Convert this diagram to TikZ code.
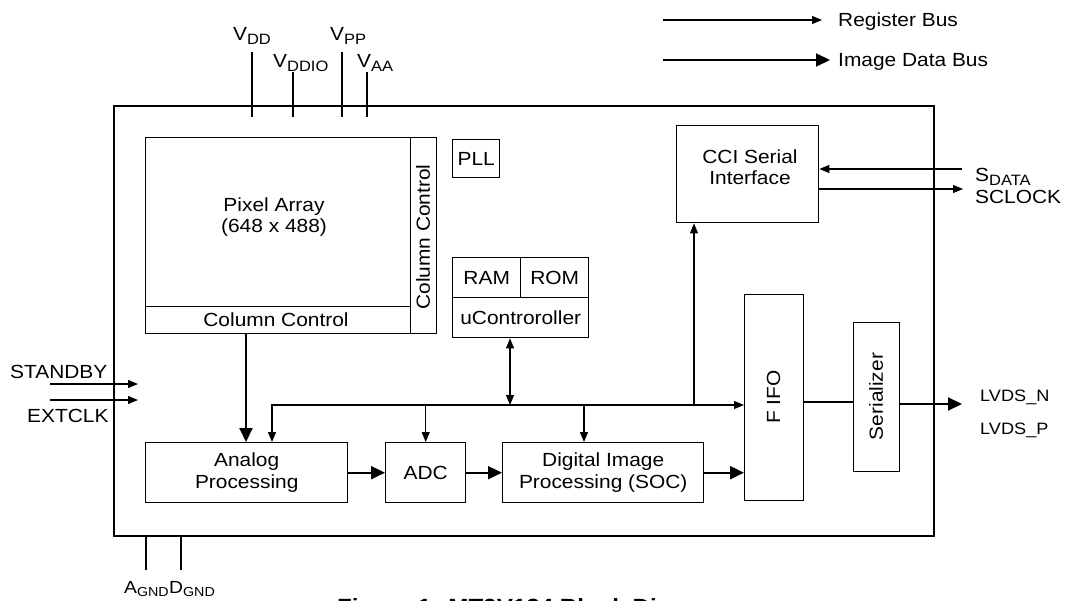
\documentclass[tikz,border=0pt]{standalone}
\usepackage{fontspec}
\setmainfont{Liberation Sans}[FakeStretch=1.1]
\usetikzlibrary{arrows.meta}
\newcommand\lbl{\fontsize{19}{21.5}\selectfont}
\newcommand\sbs[1]{\raisebox{-0.4ex}{\fontsize{15}{15}\selectfont #1}}
\newcommand\gsb[1]{\raisebox{-0.4ex}{\fontsize{13}{13}\selectfont #1}}
\tikzset{
  box/.style={draw, line width=1.4pt, inner sep=0pt, align=center, font=\lbl, anchor=north west},
  txt/.style={inner sep=0pt, font=\lbl, align=center},
  rbus/.style={line width=1.1pt, -{Triangle[length=10pt,width=8pt]}},
  rbus2/.style={line width=1.1pt, {Triangle[length=10pt,width=8pt]}-{Triangle[length=10pt,width=8pt]}},
  dbus/.style={line width=2pt, -{Triangle[length=14pt,width=13pt]}},
  pin/.style={line width=1.3pt},
}
\begin{document}
\begin{tikzpicture}[x=1pt,y=-1pt]
\useasboundingbox (0,0) rectangle (1065,600);
% chip outline
\node[box, line width=2pt, minimum width=820pt, minimum height=430pt] (chip) at (113,105) {};
% pixel array
\node[box, minimum width=291pt, minimum height=196pt] (pix) at (145,137) {};
\draw[line width=1pt] (pix.north west -| 410,0) -- (pix.south west -| 410,0);
\draw[line width=1pt] (pix.west |- 0,306) -- (410,306);
\node[txt] (pixt) at (274,217) {Pixel Array\\(648 x 488)};
\node[txt] (cc1) at (276,320) {Column Control};
\node[txt, rotate=90] (cc2) at (423,237) {Column Control};
% PLL
\node[box, minimum width=47pt, minimum height=38pt] (pll) at (452,139) {PLL};
% CCI
\node[box, minimum width=142pt, minimum height=97pt] (cci) at (676,125) {};
\node[txt] (ccit) at (750,167) {CCI Serial\\Interface};
% uController
\node[box, minimum width=68pt, minimum height=40pt] (ram) at (452,257) {RAM};
\node[box, minimum width=68pt, minimum height=40pt] (rom) at (520,257) {ROM};
\node[box, minimum width=136pt, minimum height=40pt] (uc) at (452,297) {uControroller};
% processing chain
\node[box, minimum width=202pt, minimum height=60pt] (ana) at (145,442) {Analog\\Processing};
\node[box, minimum width=80pt, minimum height=60pt] (adc) at (385,442) {ADC};
\node[box, minimum width=201pt, minimum height=60pt] (dip) at (502,442) {Digital Image\\Processing (SOC)};
\node[box, minimum width=59pt, minimum height=206pt] (fifo) at (744,294) {};
\node[txt, rotate=90] (fifot) at (773.5,397) {F IFO};
\node[box, minimum width=46pt, minimum height=149pt] (ser) at (853,322) {};
\node[txt, rotate=90] (sert) at (876,396.5) {Serializer};
% coordinates
\coordinate (busL) at (272,405);
\coordinate (busD) at (584,405);
\coordinate (busC) at (694,405);
\coordinate (busU) at (510,405);
\coordinate (sd) at (962,169);
\coordinate (sc) at (963,189);
\coordinate (lv) at (962,404);
\coordinate (sbA) at (50,384);
\coordinate (sbB) at (138,384);
\coordinate (ecA) at (50,400);
\coordinate (ecB) at (138,400);
% data path
\draw[dbus] (pix.south -| 246,0) -- (ana.north -| 246,0);
\draw[dbus] (ana.east) -- (adc.west);
\draw[dbus] (adc.east) -- (dip.west);
\draw[dbus] (dip.east) -- (fifo.west |- dip.east);
\draw[line width=1.3pt] (fifo.east |- 0,402) -- (ser.west |- 0,402);
\draw[dbus] (ser.east |- lv) -- (lv);
% register bus
\draw[rbus2] (ana.north -| busL) |- (fifo.west |- busL);
\draw[rbus] (adc.north |- busL) -- (adc.north);
\draw[rbus] (busD) -- (dip.north -| busD);
\draw[rbus] (busC) -- (cci.south -| busC);
\draw[rbus2] (uc.south -| busU) -- (busU);
\draw[rbus] (sd) -- (cci.east |- sd);
\draw[rbus] (cci.east |- sc) -- (sc);
\draw[rbus] (sbA) -- (sbB);
\draw[rbus] (ecA) -- (ecB);
% power pins
\coordinate (p1a) at (252,52); \coordinate (p1b) at (252,117);
\coordinate (p2a) at (293,72); \coordinate (p2b) at (293,117);
\coordinate (p3a) at (342,52); \coordinate (p3b) at (342,117);
\coordinate (p4a) at (367,72); \coordinate (p4b) at (367,117);
\coordinate (g1a) at (146,535); \coordinate (g1b) at (146,570);
\coordinate (g2a) at (181,535); \coordinate (g2b) at (181,570);
\draw[pin] (p1a) -- (p1b);
\draw[pin] (p2a) -- (p2b);
\draw[pin] (p3a) -- (p3b);
\draw[pin] (p4a) -- (p4b);
\draw[pin] (g1a) -- (g1b);
\draw[pin] (g2a) -- (g2b);
% labels
\node[txt, anchor=base] (vdd) at (252,40) {V\sbs{DD}};
\node[txt, anchor=base west] (vddio) at (273,67) {V\sbs{DDIO}};
\node[txt, anchor=base west] (vpp) at (330,40) {V\sbs{PP}};
\node[txt, anchor=base west] (vaa) at (357,67) {V\sbs{AA}};
\node[txt, anchor=base west, font=\fontsize{17.5}{20}\selectfont] (agnd) at (124,593) {A\gsb{GND}};
\node[txt, anchor=base west, font=\fontsize{17.5}{20}\selectfont] (dgnd) at (169,593) {D\gsb{GND}};
\node[txt, anchor=base west] (stb) at (10,378) {STANDBY};
\node[txt, anchor=base west] (ext) at (27,422) {EXTCLK};
\node[txt, anchor=base west] (sdt) at (975,181) {S\sbs{DATA}};
\node[txt, anchor=base west] (sclk) at (975,203) {SCLOCK};
\node[txt, anchor=base west, font=\fontsize{16.5}{18}\selectfont] (lvn) at (980,401) {LVDS\_N};
\node[txt, anchor=base west, font=\fontsize{16.5}{18}\selectfont] (lvp) at (980,434) {LVDS\_P};
% legend
\coordinate (l1a) at (663,20); \coordinate (l1b) at (822,20);
\coordinate (l2a) at (663,60); \coordinate (l2b) at (830,60);
\draw[rbus] (l1a) -- (l1b);
\draw[dbus] (l2a) -- (l2b);
\node[txt, anchor=base west] (lg1) at (838,26) {Register Bus};
\node[txt, anchor=base west] (lg2) at (838,66) {Image Data Bus};
% caption (cut off at the lower edge, as in the reference)
\node[txt, anchor=base west, font=\fontsize{22}{24}\selectfont\bfseries] (cap) at (337,614) {Figure 1: MT9V124 Block Diagram};
\end{tikzpicture}
\end{document}
